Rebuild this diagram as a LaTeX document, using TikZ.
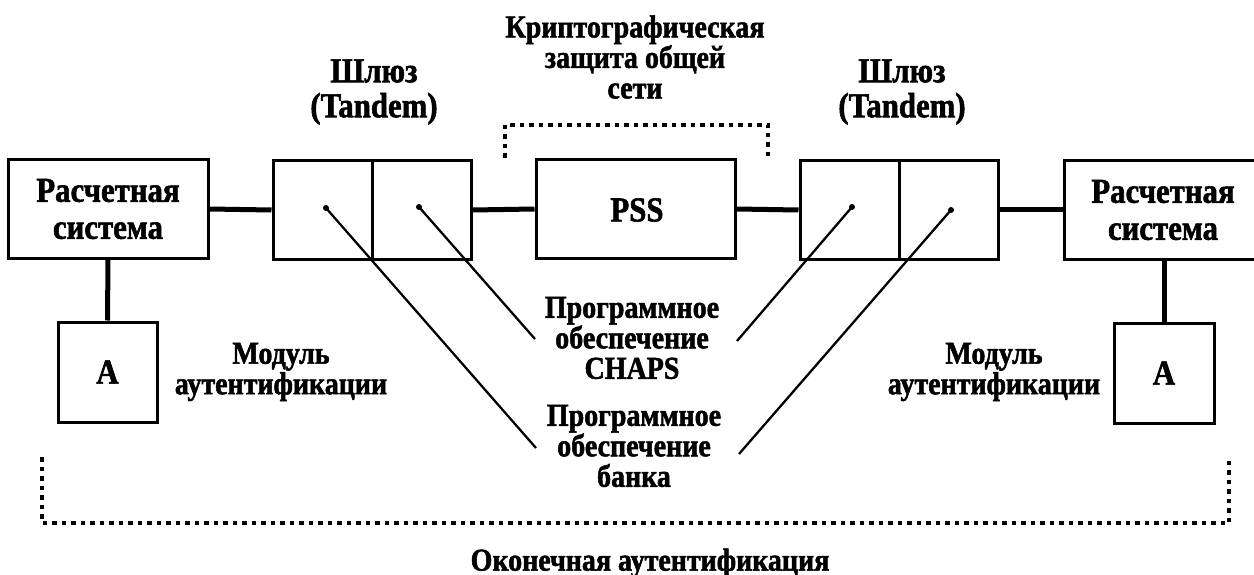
\documentclass[tikz,border=0pt]{standalone}
\usepackage{fontspec}
\setmainfont{Liberation Serif}[BoldFeatures={FakeBold=1.6,FakeStretch=0.88}]
\begin{document}
\begin{tikzpicture}[x=1pt,y=-1pt,
  lbl/.style={align=center, inner sep=0pt, font=\fontsize{31.8}{30.5}\selectfont\bfseries},
  boxtxt/.style={align=center, inner sep=0pt, font=\fontsize{35}{37}\selectfont\bfseries},
  box/.style={draw, line width=3pt, rectangle, inner sep=0pt},
  conn/.style={line width=5pt},
  ptr/.style={line width=2.3pt},
  dotline/.style={line width=4.5pt, dash pattern=on 4.5pt off 5pt}]
\fill[white] (0,0) rectangle (1254,575);
\useasboundingbox (0,0) rectangle (1254,575);
% main row
\node[box, minimum width=200, minimum height=98] (lsys) at (108,209) {};
\node[boxtxt] at (108,209) {Расчетная\\система};
\node[box, minimum width=99, minimum height=98] (gl1) at (322.5,210) {};
\node[box, minimum width=99, minimum height=98] (gl2) at (421.5,210) {};
\node[box, minimum width=199, minimum height=98] (pss) at (635.5,209) {};
\node[boxtxt] at (637,210) {PSS};
\node[box, minimum width=99, minimum height=98] (gr1) at (849.5,210) {};
\node[box, minimum width=99, minimum height=98] (gr2) at (948.5,210) {};
\node[box, minimum width=200, minimum height=98] (rsys) at (1164,210) {};
\node[boxtxt] at (1163,210) {Расчетная\\система};
\draw[conn] (lsys.east) -- (gl1.west);
\draw[conn] (gl2.east) -- (pss.west);
\draw[conn] (pss.east) -- (gr1.west);
\draw[conn] (gr2.east) -- (rsys.west);
% authentication modules
\node[box, minimum width=99, minimum height=100] (al) at (107.5,372) {};
\node[boxtxt] at (107.5,372) {A};
\node[box, minimum width=100, minimum height=100] (ar) at (1164,373) {};
\node[boxtxt] at (1164,373) {A};
\draw[conn] (lsys.south) -- (al.north);
\draw[conn] (rsys.south) -- (ar.north);
% labels
\node[lbl, font=\fontsize{35}{35}\selectfont\bfseries] (shl) at (374,92) {Шлюз\\(Tandem)};
\node[lbl, font=\fontsize{35}{35}\selectfont\bfseries] (shr) at (902,92) {Шлюз\\(Tandem)};
\node[lbl] (crypt) at (635,57) {Криптографическая\\защита общей\\сети};
\node[lbl] (chaps) at (632,338) {Программное\\обеспечение\\CHAPS};
\node[lbl] (bank) at (634,446) {Программное\\обеспечение\\банка};
\node[lbl] (modl) at (281,372) {Модуль\\аутентификации};
\node[lbl] (modr) at (994,372) {Модуль\\аутентификации};
\node[lbl] (term) at (650,563) {Оконечная аутентификация};
% pointer lines
\coordinate (s1) at (326,208);
\coordinate (s2) at (419,207);
\coordinate (s3) at (852,207);
\coordinate (s4) at (951,210);
\coordinate (e1) at (536,448);
\coordinate (e2) at (535,339);
\coordinate (e3) at (737,341);
\coordinate (e4) at (739,454);
\draw[ptr] (s1) -- (e1);
\draw[ptr] (s2) -- (e2);
\draw[ptr] (s3) -- (e3);
\draw[ptr] (s4) -- (e4);
\foreach \p in {s1,s2,s3,s4} \fill (\p) circle (3);
% dotted brackets
\coordinate (t1) at (505,158);
\coordinate (t2) at (505,125);
\coordinate (t3) at (768,125);
\coordinate (t4) at (768,158);
\draw[dotline] (t1) -- (t2) -- (t3) -- (t4);
\coordinate (b1) at (42,457);
\coordinate (b2) at (42,523);
\coordinate (b3) at (1229,523);
\coordinate (b4) at (1229,460);
\draw[dotline] (b1) -- (b2) -- (b3) -- (b4);
\end{tikzpicture}
\end{document}
